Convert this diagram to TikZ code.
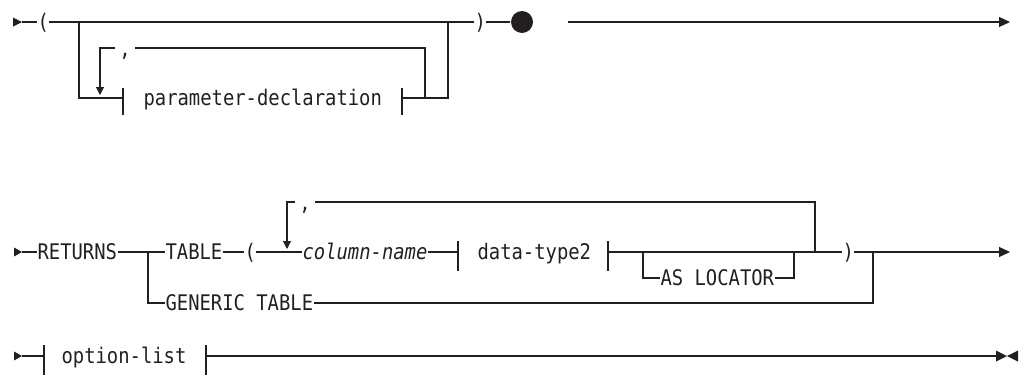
\documentclass[tikz,border=0pt]{standalone}
\usepackage{fontspec}
\setmonofont{DejaVu Sans Mono}[FakeStretch=0.877]
\usetikzlibrary{arrows.meta}
\definecolor{ink}{RGB}{35,31,32}
\begin{document}
\begin{tikzpicture}[x=1pt,y=-1pt,line width=1.1pt,draw=ink,
  lbl/.style={inner sep=0pt,anchor=west,text height=15.5pt,text depth=0pt,
    font=\ttfamily\fontsize{21.5}{24}\selectfont,text=ink},
  commalbl/.style={inner xsep=4pt,inner ysep=0pt,text height=16pt,text depth=0pt,
    font=\ttfamily\fontsize{21.5}{24}\selectfont,text=ink},
  dot/.style={circle,fill=ink,inner sep=0pt,minimum size=22pt},
  endarrow/.style={-{Triangle[length=11pt,width=10pt]}},
  looparrow/.style={-{Triangle[length=8pt,width=8pt]}}]
\useasboundingbox (0,0) rectangle (1028,378);

% ---------- row 1 ----------
\coordinate (s1) at (22,22);
\fill[ink] (s1) -- ++(-9,-4.5) -- ++(0,9) -- cycle;
\node[lbl] (lp1) at (37,22) {(};
\node[lbl] (rp1) at (474,22) {)};
\coordinate (j1a) at (79,22);
\coordinate (j1b) at (448,22);
\draw (s1) -- (lp1);
\draw (lp1) -- (rp1);
\node[dot] (dot1) at (522,22) {};
\draw (rp1) -- (dot1);
\coordinate (c1) at (568,22);
\coordinate (e1) at (1010,22);
\draw[endarrow] (c1) -- (e1);

\coordinate (t1) at (123,98);
\coordinate (t2) at (402,98);
\node[lbl] (pd) at (143,98) {parameter-declaration};
\draw (j1a) |- (t1);
\draw (t2) -| (j1b);
\draw (t1) ++(0,-10) -- ++(0,27);
\draw (t2) ++(0,-10) -- ++(0,27);
\coordinate (l1r) at (425,98);
\coordinate (a1) at (100,95);
\node[commalbl] (cm1) at (125,48) {,};
\draw (l1r) |- (cm1);
\draw[looparrow] (cm1) -| (a1);

% ---------- row 2 ----------
\coordinate (s2) at (22,252);
\fill[ink] (s2) -- ++(-8,-4.5) -- ++(0,9) -- cycle;
\node[lbl] (ret) at (37,252) {RETURNS};
\draw (s2) -- (ret);
\coordinate (j2a) at (148,252);
\node[lbl] (tab) at (165,252) {TABLE};
\draw (ret) -- (tab);
\node[lbl] (lp2) at (244,252) {(};
\draw (tab) -- (lp2);
\node[lbl] (col) at (302,252) {\itshape column-name};
\draw (lp2) -- (col);
\coordinate (t3) at (458,252);
\coordinate (t4) at (608,252);
\draw (col) -- (t3);
\draw (t3) ++(0,-11) -- ++(0,30);
\node[lbl] (dt) at (477,252) {data-type2};
\draw (t4) ++(0,-11) -- ++(0,30);
\node[lbl] (rp2) at (842,252) {)};
\draw (t4) -- (rp2);
\coordinate (j2b) at (873,252);
\coordinate (e2) at (1010,252);
\draw[endarrow] (rp2) -- (e2);

% AS LOCATOR
\coordinate (k1) at (643,252);
\coordinate (k2) at (794,252);
\node[lbl] (asl) at (660,278) {AS LOCATOR};
\draw (k1) |- (asl);
\draw (asl) -| (k2);

% repeat loop
\coordinate (l2r) at (815,252);
\coordinate (a2) at (287,249);
\node[commalbl] (cm2) at (305,202) {,};
\draw (l2r) |- (cm2);
\draw[looparrow] (cm2) -| (a2);

% GENERIC TABLE
\node[lbl] (gen) at (165,303) {GENERIC TABLE};
\draw (j2a) |- (gen);
\draw (gen) -| (j2b);

% ---------- row 3 ----------
\coordinate (s3) at (22,356);
\fill[ink] (s3) -- ++(-8,-4.5) -- ++(0,9) -- cycle;
\coordinate (t5) at (44,356);
\coordinate (t6) at (206,356);
\draw (s3) -- (t5);
\draw (t5) ++(0,-11) -- ++(0,30);
\node[lbl] (opt) at (61,356) {option-list};
\draw (t6) ++(0,-11) -- ++(0,30);
\coordinate (e3) at (996,356);
\draw (t6) -- (e3);
\fill[ink] (e3) ++(0,-5.5) -- ++(11,5.5) -- ++(-11,5.5) -- cycle;
\fill[ink] (e3) ++(22,-5.5) -- ++(-11,5.5) -- ++(11,5.5) -- cycle;
\end{tikzpicture}
\end{document}
